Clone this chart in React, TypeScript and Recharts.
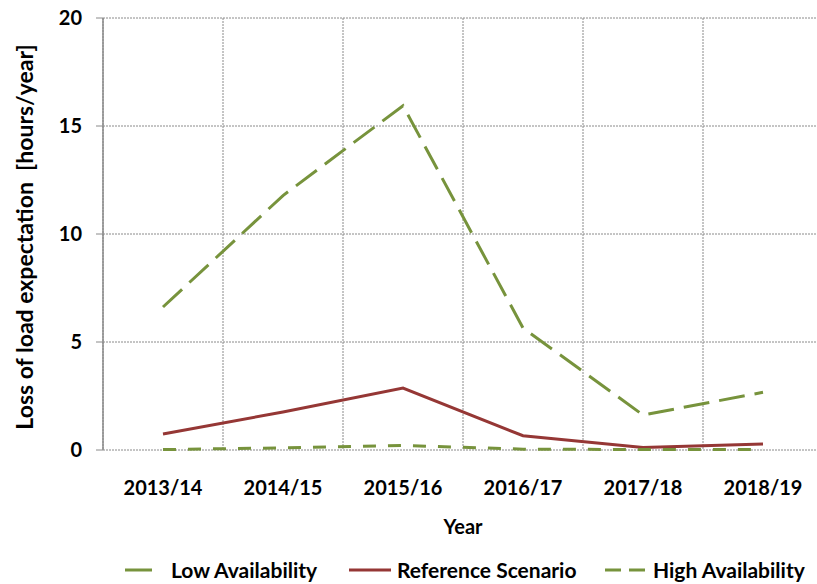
import React from 'react';
import { LineChart, Line, XAxis, YAxis, CartesianGrid, Legend } from 'recharts';

const years = ['2013/14', '2014/15', '2015/16', '2016/17', '2017/18', '2018/19'];
const lowAvailability = [6.62, 11.78, 15.94, 5.65, 1.62, 2.67];
const referenceScenario = [0.74, 1.76, 2.87, 0.66, 0.12, 0.28];
const highAvailability = [0.02, 0.1, 0.21, 0.04, 0.02, 0.02];
const yTicks = [0, 5, 10, 15, 20];
const yMinorTicks = [1, 2, 3, 4, 6, 7, 8, 9, 11, 12, 13, 14, 16, 17, 18, 19];
const boundaryTicks = [0, 1, 2, 3, 4, 5, 6];
const centerTicks = [0.5, 1.5, 2.5, 3.5, 4.5, 5.5];

const data = years.map((y, i) => ({
  x: i + 0.5,
  year: y,
  low: lowAvailability[i],
  ref: referenceScenario[i],
  high: highAvailability[i],
}));

const GREEN = '#77933C';
const RED = '#953735';
const GRAY = '#8a8a8a';
const FONT = 'Lato, "Open Sans", sans-serif';

const series = [
  { key: 'low', name: 'Low Availability', color: GREEN, dash: '26 10', legendDash: '27 0', len: 27, left: 125, textLeft: 171 },
  { key: 'ref', name: 'Reference Scenario', color: RED, dash: undefined, legendDash: undefined, len: 42, left: 349, textLeft: 397 },
  { key: 'high', name: 'High Availability', color: GREEN, dash: '13 12', legendDash: '16 8', len: 40, left: 605, textLeft: 653 },
];

const LegendContent = () => (
  <div style={{ position: 'relative', width: 817, height: 36, fontFamily: FONT, fontWeight: 700, fontSize: 21, color: '#000' }}>
    {series.map((s) => (
      <React.Fragment key={s.key}>
        <svg style={{ position: 'absolute', left: s.left, top: 20 }} width={44} height={4}>
          <line x1={0} y1={2} x2={s.len} y2={2} stroke={s.color} strokeWidth={3} strokeDasharray={s.legendDash} />
        </svg>
        <span style={{ position: 'absolute', left: s.textLeft, top: 9, lineHeight: '26px', whiteSpace: 'nowrap' }}>{s.name}</span>
      </React.Fragment>
    ))}
  </div>
);

const EmptyTick = () => <g />;

export default function App() {
  return (
    <div style={{ position: 'absolute', left: 0, top: 0, width: 817, height: 584, overflow: 'hidden', background: '#fff' }}>
      <LineChart width={830} height={584} data={data} margin={{ top: 18, right: 7, bottom: 0, left: 0 }}>
        <CartesianGrid xAxisId="grid" yAxisId="main" stroke={GRAY} strokeDasharray="2 1" strokeWidth={1} />
        <XAxis
          xAxisId="grid"
          type="number"
          dataKey="x"
          domain={[0, 6]}
          ticks={boundaryTicks}
          tick={EmptyTick}
          tickSize={7}
          height={0}
          stroke={GRAY}
          axisLine={{ stroke: GRAY, strokeWidth: 1.5 }}
          tickLine={{ stroke: GRAY, strokeWidth: 1 }}
          interval={0}
        />
        <XAxis
          xAxisId="lab"
          type="number"
          dataKey="x"
          domain={[0, 6]}
          ticks={centerTicks}
          interval={0}
          tickFormatter={(v: number) => years[Math.round(v - 0.5)]}
          axisLine={false}
          tickLine={false}
          tickSize={6}
          tickMargin={25}
          height={98}
          tick={{ fill: '#000', fontFamily: FONT, fontWeight: 700, fontSize: 20 }}
          label={{ value: 'Year', position: 'insideTop', offset: 70, fill: '#000', fontFamily: FONT, fontWeight: 700, fontSize: 20 }}
        />
        <YAxis
          yAxisId="main"
          type="number"
          domain={[0, 20]}
          ticks={yTicks}
          interval={0}
          width={103}
          tickSize={7}
          tickMargin={14}
          axisLine={{ stroke: GRAY, strokeWidth: 1.5 }}
          tickLine={{ stroke: GRAY }}
          tick={{ fill: '#000', fontFamily: FONT, fontWeight: 700, fontSize: 20 }}
          label={{
            value: 'Loss of load expectation\u00a0\u00a0[hours/year]',
            angle: -90,
            position: 'insideLeft',
            offset: 0,
            dx: 25,
            dy: 3,
            style: { textAnchor: 'middle', fill: '#000', fontFamily: FONT, fontWeight: 700, fontSize: 23 },
          }}
        />
        <YAxis
          yAxisId="minor"
          type="number"
          domain={[0, 20]}
          ticks={yMinorTicks}
          interval={0}
          width={0}
          mirror
          tickSize={4}
          axisLine={false}
          tickLine={{ stroke: GRAY }}
          tick={EmptyTick}
        />
        <Legend verticalAlign="bottom" height={36} wrapperStyle={{ left: 0, bottom: 0, width: 817, height: 36 }} content={LegendContent} />
        {series.map((s) => (
          <Line
            key={s.key}
            xAxisId="grid"
            yAxisId="main"
            type="linear"
            dataKey={s.key}
            name={s.name}
            stroke={s.color}
            strokeWidth={3}
            strokeDasharray={s.dash}
            dot={false}
            activeDot={false}
            isAnimationActive={false}
          />
        ))}
      </LineChart>
    </div>
  );
}
